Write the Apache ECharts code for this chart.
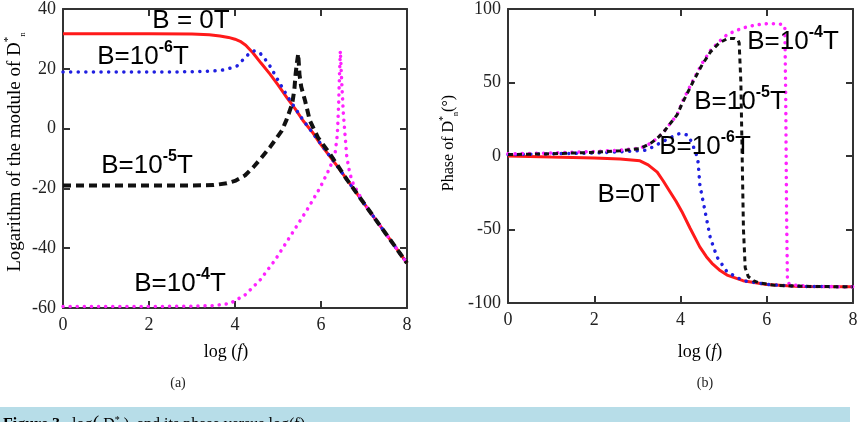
<!DOCTYPE html>
<html>
<head>
<meta charset="utf-8">
<script src="https://cdn.jsdelivr.net/npm/echarts@6/dist/echarts.min.js"></script>
<style>
  html, body { margin: 0; padding: 0; background: #fff; }
  #main { width: 861px; height: 422px; }
</style>
</head>
<body>
<div id="main"></div>
<script>
// (a) log of |D*n| versus log(f)
var modB0X = [0, 1, 2, 3, 3.4, 3.65, 3.85, 4.0, 4.12, 4.25, 4.42, 4.6, 4.81, 5.0, 5.21, 5.4, 5.58, 5.8, 5.98, 6.4, 6.8, 7.2, 7.6, 8];
var modB0Y = [31.7, 31.7, 31.7, 31.6, 31.4, 31, 30.5, 29.9, 29.2, 27.9, 25.3, 22, 18.3, 14.6, 10.3, 6.6, 2.7, -1.2, -5, -13, -21, -29, -37, -45];

var modB6X = [0, 1, 2, 3, 3.4, 3.65, 3.84, 4.05, 4.23, 4.35, 4.45, 4.58, 4.7, 4.81, 4.98, 5.21, 5.4, 5.6, 6, 6.5, 7, 7.5, 8];
var modB6Y = [18.9, 18.9, 18.9, 19, 19.2, 19.4, 20, 21, 23.7, 25.4, 26, 25.3, 23.2, 21, 16.7, 11, 6.8, 2.5, -5.2, -15, -25, -35, -45];

var modB5X = [0, 1, 2, 3, 3.5, 3.81, 4.0, 4.23, 4.42, 4.6, 4.81, 4.95, 5.09, 5.2, 5.33, 5.38, 5.41, 5.44, 5.47, 5.5, 5.54, 5.63, 5.74, 5.93, 6.21, 6.6, 7, 7.5, 8];
var modB5Y = [-19, -19, -19, -19, -18.9, -18.3, -17.5, -15.7, -13, -10, -6.3, -3.5, -0.7, 3, 8.3, 13, 18.3, 22, 25, 18, 14, 9.3, 2.7, -3, -8.5, -17, -25, -35, -45];

var modB4X = [0, 1, 2, 3, 3.5, 3.88, 4.23, 4.58, 4.93, 5.33, 5.67, 5.98, 6.21, 6.33, 6.38, 6.41, 6.43, 6.45, 6.48, 6.52, 6.6, 6.67, 6.75, 7, 7.5, 8];
var modB4Y = [-59.5, -59.5, -59.5, -59.4, -59.2, -58.5, -55.7, -50.7, -44, -35, -27.3, -19.7, -13, -8, -2, 8, 18, 26, 16, 5, -9.5, -15, -18.5, -25, -35, -45];

// (b) phase of D*n versus log(f)
var phB0X = [0, 1, 2, 2.6, 3.06, 3.25, 3.46, 3.6, 3.76, 3.9, 4.03, 4.22, 4.45, 4.6, 4.73, 4.9, 5.08, 5.45, 6, 6.77, 8];
var phB0Y = [0, -0.7, -1.3, -2, -3.3, -6, -11, -17, -24.5, -31, -37.7, -49, -62, -68.5, -73, -77.5, -81, -84.8, -87.4, -88.7, -89];

var phB6X = [0, 1, 2, 3, 3.22, 3.6, 3.94, 4.05, 4.18, 4.27, 4.33, 4.38, 4.41, 4.45, 4.57, 4.69, 4.85, 5.08, 5.45, 6, 6.77, 8];
var phB6Y = [1, 1.5, 2, 3.5, 4, 10, 15, 15.3, 14, 8.6, 4, 0, -4.6, -20, -37.7, -55.6, -68.9, -78.8, -84.8, -87.4, -88.7, -89];

var phB5X = [0, 1, 2, 2.6, 3.06, 3.3, 3.46, 3.6, 3.76, 3.92, 4.06, 4.3, 4.5, 4.7, 4.9, 5.1, 5.25, 5.33, 5.36, 5.4, 5.43, 5.46, 5.5, 5.57, 5.7, 5.85, 6.2, 7, 8];
var phB5Y = [1, 1.5, 2.5, 3.5, 5, 8.5, 12, 16, 22, 28, 37, 51, 62, 71, 77, 80, 80, 79, 77, 50, 0, -50, -76, -82, -85, -86.5, -88, -88.7, -89];

var phB4X = [0, 1, 2, 2.6, 3.06, 3.3, 3.46, 3.6, 3.76, 3.92, 4.06, 4.3, 4.5, 4.7, 4.9, 5.08, 5.3, 5.55, 5.8, 6.0, 6.2, 6.38, 6.42, 6.44, 6.46, 6.48, 6.52, 6.7, 7, 8];
var phB4Y = [1.5, 2, 3, 4, 5.3, 8.5, 12, 16, 22, 28, 38, 52, 63, 72, 78, 82.5, 85.5, 88, 89.3, 90, 90, 89.5, 87, 40, -40, -85, -87, -88, -88.7, -89];

var xTicks = { min: 0, max: 8, interval: 2 };
var modTicks = { min: -60, max: 40, interval: 20 };
var phTicks = { min: -100, max: 100, interval: 50 };

function zip(xs, ys) {
  return xs.map(function (x, i) { return [x, ys[i]]; });
}

var serif = "Liberation Serif";
var sans = "Liberation Sans";

function axisBase(show) {
  return {
    type: "value",
    axisLine: { show: true, onZero: false, lineStyle: { color: "#333", width: 2 } },
    axisTick: { show: true, inside: true, length: 7, lineStyle: { color: "#333", width: 2 } },
    axisLabel: { show: show, fontFamily: serif, fontSize: 18, color: "#222", margin: 8 },
    splitLine: { show: false }
  };
}

function xAx(grid, pos, show) {
  return Object.assign(axisBase(show), { gridIndex: grid, position: pos }, xTicks);
}
function yAx(grid, pos, show, t) {
  var a = Object.assign(axisBase(show), { gridIndex: grid, position: pos }, t);
  a.axisLabel.margin = 7;
  return a;
}

var redStyle = { color: "#ff1a1a", width: 3 };
var blueStyle = { color: "#1f1fe0", width: 3.5, type: [0.1, 7.5], cap: "round" };
var magStyle = { color: "#ff22ff", width: 3.5, type: [0.1, 7], cap: "round" };
var blackL = { color: "#111", width: 4, type: [8, 5] };
var blackR = { color: "#111", width: 3, type: [5, 4] };

function line(name, xi, yi, data, ls, z) {
  return {
    name: name, type: "line", xAxisIndex: xi, yAxisIndex: yi, data: data,
    showSymbol: false, symbol: "none", lineStyle: ls, z: z, animation: false
  };
}

var ann = {
  t: { fontFamily: sans, fontSize: 26, color: "#111", lineHeight: 35 },
  s: { fontFamily: sans, fontSize: 16, fontWeight: "bold", color: "#111", verticalAlign: "top", lineHeight: 35 }
};

function label(x, y, txt) {
  return {
    type: "text", x: x, y: y, z: 100,
    style: { text: txt, rich: ann, align: "center", verticalAlign: "middle", textAlign: "center", textVerticalAlign: "middle" }
  };
}

var titleRich = {
  t: { fontFamily: serif, fontSize: 19, color: "#222", lineHeight: 25 },
  sup: { fontFamily: serif, fontSize: 11, color: "#222", verticalAlign: "top", lineHeight: 25 },
  sub: { fontFamily: serif, fontSize: 9, color: "#222", verticalAlign: "bottom", lineHeight: 25 },
  i: { fontFamily: serif, fontSize: 19, color: "#222", fontStyle: "italic", lineHeight: 25 }
};
var xTitleRich = {
  t: { fontFamily: serif, fontSize: 18, color: "#222" },
  i: { fontFamily: serif, fontSize: 18, color: "#222", fontStyle: "italic" }
};
var titleRichR = {
  t: { fontFamily: serif, fontSize: 16, color: "#222", lineHeight: 22 },
  sup: { fontFamily: serif, fontSize: 10, color: "#222", verticalAlign: "top", lineHeight: 22 },
  sub: { fontFamily: serif, fontSize: 8, color: "#222", verticalAlign: "bottom", lineHeight: 22 }
};

function text(x, y, txt, rich, rot) {
  return {
    type: "text", x: x, y: y, rotation: rot || 0, z: 100,
    style: { text: txt, rich: rich, align: "center", verticalAlign: "middle", textAlign: "center", textVerticalAlign: "middle" }
  };
}

var option = {
  animation: false,
  backgroundColor: "#fff",
  grid: [
    { left: 63, top: 8, width: 344, height: 300 },
    { left: 508, top: 2, width: 345, height: 301 }
  ],
  xAxis: [
    xAx(0, "bottom", true), xAx(0, "top", false),
    xAx(1, "bottom", true), xAx(1, "top", false)
  ],
  yAxis: [
    yAx(0, "left", true, modTicks), yAx(0, "right", false, modTicks),
    yAx(1, "left", true, phTicks), yAx(1, "right", false, phTicks)
  ],
  series: [
    line("B=0T", 0, 0, zip(modB0X, modB0Y), redStyle, 2),
    line("B=1e-6T", 0, 0, zip(modB6X, modB6Y), blueStyle, 3),
    line("B=1e-4T", 0, 0, zip(modB4X, modB4Y), magStyle, 4),
    line("B=1e-5T", 0, 0, zip(modB5X, modB5Y), blackL, 5),
    line("B=0T", 2, 2, zip(phB0X, phB0Y), redStyle, 2),
    line("B=1e-6T", 2, 2, zip(phB6X, phB6Y), blueStyle, 3),
    line("B=1e-4T", 2, 2, zip(phB4X, phB4Y), magStyle, 4),
    line("B=1e-5T", 2, 2, zip(phB5X, phB5Y), blackR, 5)
  ],
  graphic: [
    label(191, 21, "{t|B = 0T}"),
    label(143, 57, "{t|B=10}{s|-6}{t|T}"),
    label(147, 166, "{t|B=10}{s|-5}{t|T}"),
    label(180, 284, "{t|B=10}{s|-4}{t|T}"),
    label(793, 42, "{t|B=10}{s|-4}{t|T}"),
    label(740, 102, "{t|B=10}{s|-5}{t|T}"),
    label(705, 147, "{t|B=10}{s|-6}{t|T}"),
    label(629, 195, "{t|B=0T}"),
    text(15, 152, "{t|Logarithm of the module of D}{sup|*}{sub|n}", titleRich, Math.PI / 2),
    text(449, 143, "{t|Phase of D}{sup|*}{sub|n}{t|(°)}", titleRichR, Math.PI / 2),
    text(226, 352, "{t|log (}{i|f}{t|)}", xTitleRich),
    text(700, 352, "{t|log (}{i|f}{t|)}", xTitleRich),
    {
      type: "text", x: 178, y: 383,
      style: { text: "(a)", fontFamily: serif, fontSize: 14, fill: "#222", textAlign: "center", textVerticalAlign: "middle" }
    },
    {
      type: "text", x: 705, y: 383,
      style: { text: "(b)", fontFamily: serif, fontSize: 14, fill: "#222", textAlign: "center", textVerticalAlign: "middle" }
    },
    {
      type: "rect", shape: { x: 0, y: 407, width: 850, height: 20 },
      style: { fill: "#b7dde8" }, z: 1
    },
    {
      type: "text", x: 3, y: 425, z: 2,
      style: {
        text: "{b|Figure 3.}{t|  log}{p|(}{t| D}{sup|*}{t| )}{t|, and its phase versus log(f).}",
        textVerticalAlign: "middle", verticalAlign: "middle",
        rich: {
          b: { fontFamily: serif, fontSize: 16, fontWeight: "bold", color: "#2a64a8" },
          t: { fontFamily: serif, fontSize: 16, color: "#222" },
          p: { fontFamily: serif, fontSize: 20, color: "#222" },
          sup: { fontFamily: serif, fontSize: 10, color: "#222", verticalAlign: "top" }
        }
      }
    }
  ]
};

echarts.init(document.getElementById("main")).setOption(option);
</script>
</body>
</html>
